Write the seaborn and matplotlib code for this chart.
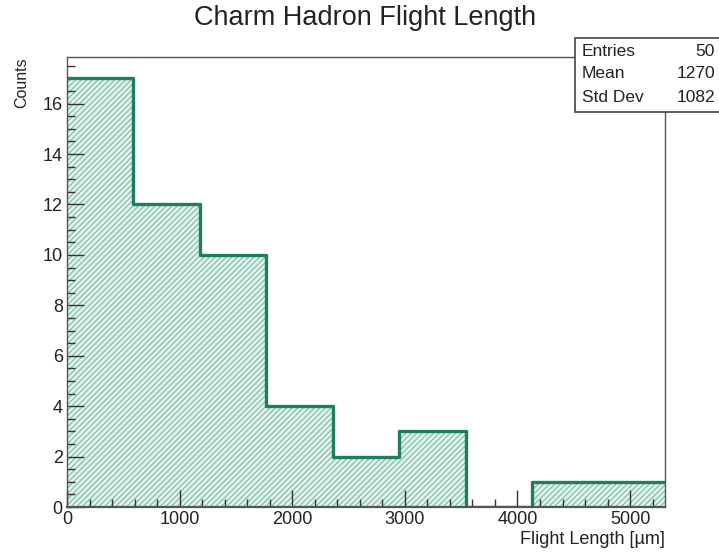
import numpy as np
import pandas as pd
import matplotlib
matplotlib.use("Agg")
import matplotlib.pyplot as plt
from matplotlib.patches import Rectangle
from matplotlib.ticker import MultipleLocator
import seaborn as sns

# Data
bin_edges = [0, 590, 1180, 1770, 2360, 2950, 3540, 4130, 4720, 5310]
counts = [17, 12, 10, 4, 2, 3, 0, 1, 1]
stats_labels = ["Entries", "Mean", "Std Dev"]
stats_values = ["50", "1270", "1082"]
title = "Charm Hadron Flight Length"
xlabel = "Flight Length [µm]"
ylabel = "Counts"

sns.set_style("white")
plt.rcParams['font.family'] = ['Liberation Sans', 'DejaVu Sans']
plt.rcParams['hatch.linewidth'] = 0.7

line_color = "#1f7f5c"
centers = [(bin_edges[i] + bin_edges[i + 1]) / 2 for i in range(len(counts))]
df = pd.DataFrame({"x": centers, "w": counts})

fig = plt.figure(figsize=(7.19, 5.52), dpi=100)
ax = fig.add_axes([67 / 719, 45 / 552, 598 / 719, 450 / 552])

# hatched fill
sns.histplot(data=df, x="x", weights="w", bins=bin_edges, element="step",
             fill=True, color=line_color, ax=ax, linewidth=0, alpha=1)
for coll in ax.collections:
    coll.set_facecolor("#dff2ec")
    coll.set_edgecolor("#6fb39b")
    coll.set_hatch("//////")
    coll.set_linewidth(0)
    coll.set_zorder(0.5)
# step outline
sns.histplot(data=df, x="x", weights="w", bins=bin_edges, element="step",
             fill=False, color=line_color, ax=ax, linewidth=2.4)
for ln in ax.lines:
    ln.set_color(line_color)
    ln.set_linewidth(2.4)
    ln.set_zorder(1)

ax.set_xlim(0, 5310)
ax.set_ylim(0, 17.85)
ax.xaxis.set_major_locator(MultipleLocator(1000))
ax.xaxis.set_minor_locator(MultipleLocator(200))
ax.yaxis.set_major_locator(MultipleLocator(2))
ax.yaxis.set_minor_locator(MultipleLocator(0.5))
ax.tick_params(axis="both", which="both", direction="in", colors="#333333",
               labelcolor="#222222", labelsize=13, top=False, right=False,
               bottom=True, left=True)
ax.tick_params(axis="x", which="major", length=12, width=1, pad=3)
ax.tick_params(axis="x", which="minor", length=6, width=1)
ax.tick_params(axis="y", which="major", length=12, width=1, pad=3)
ax.tick_params(axis="y", which="minor", length=6, width=1)
for s in ax.spines.values():
    s.set_color("#555555")
    s.set_linewidth(1)
    s.set_zorder(4)
ax.spines["bottom"].set_linewidth(1.6)

ax.set_xlabel("")
ax.set_ylabel("")
fig.text(665 / 719, 1 - 539 / 552, xlabel, ha="right", va="center", fontsize=13, color="#222222")
fig.text(22 / 719, 1 - 57 / 552, ylabel, ha="center", va="top", rotation=90, fontsize=11.5, color="#222222")
fig.text(365 / 719, 1 - 18 / 552, title, ha="center", va="center", fontsize=19.5, color="#222222")

# Stats box
box = Rectangle((575 / 719, 1 - 112 / 552), 150 / 719, 74 / 552, transform=fig.transFigure,
                facecolor="white", edgecolor="#444444", linewidth=1.2, zorder=5)
fig.add_artist(box)
for i, (lab, val) in enumerate(zip(stats_labels, stats_values)):
    y = 1 - (51 + i * 23) / 552
    fig.text(582 / 719, y, lab, ha="left", va="center", fontsize=12.5, color="#222222", zorder=6)
    fig.text(715 / 719, y, val, ha="right", va="center", fontsize=12.5, color="#222222", zorder=6)

fig.savefig("out.png", dpi=100)
